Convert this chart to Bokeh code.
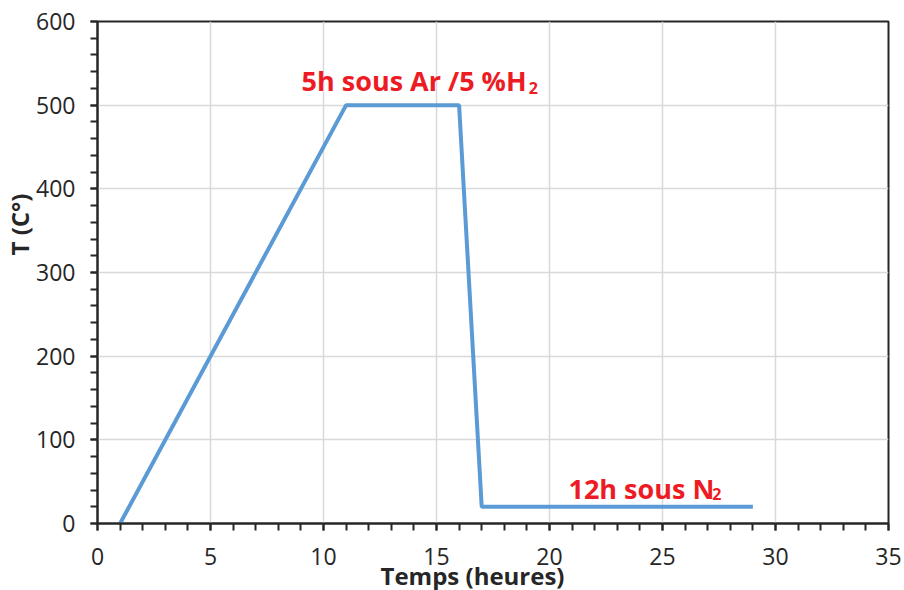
from bokeh.plotting import figure
from bokeh.models import Label, Range1d, FixedTicker, Title
from bokeh.embed import file_html
from bokeh.resources import INLINE

time_h = [1, 11, 16, 17, 29]
temp_c = [0, 500, 500, 20, 20]

x_ticks = [0, 5, 10, 15, 20, 25, 30, 35]
y_ticks = [0, 100, 200, 300, 400, 500, 600]
x_minor = list(range(0, 36))
y_minor = list(range(0, 601, 20))

ann1_main, ann1_sub = "5h sous Ar /5 %H", "2"
ann2_main, ann2_sub = "12h sous N", "2"
x_label = "Temps (heures)"
y_label = "T (C°)"

FONT = "Open Sans"
RED = "#ED1C24"
AXC = "#262626"

p = figure(width=904, height=590, output_backend="svg", toolbar_location=None,
           x_range=Range1d(0, 35), y_range=Range1d(0, 600),
           min_border_left=97, min_border_right=16, min_border_top=21, min_border_bottom=67)
p.frame_width = 791
p.frame_height = 502

p.line(time_h, temp_c, line_color="#5B9BD5", line_width=4)

for ax, ticks, minor in ((p.xaxis, x_ticks, x_minor), (p.yaxis, y_ticks, y_minor)):
    ax.ticker = FixedTicker(ticks=ticks, minor_ticks=minor)
    ax.axis_line_color = AXC
    ax.axis_line_width = 2
    ax.major_tick_line_color = AXC
    ax.major_tick_line_width = 2
    ax.minor_tick_line_color = AXC
    ax.minor_tick_line_width = 2
    ax.major_tick_in = 0
    ax.major_tick_out = 7
    ax.minor_tick_in = 0
    ax.minor_tick_out = 7
    ax.major_label_text_font = FONT
    ax.major_label_text_font_size = "23px"
    ax.major_label_text_color = AXC
p.xaxis.major_label_standoff = 17
p.yaxis.major_label_standoff = 15

p.xgrid.ticker = FixedTicker(ticks=x_ticks)
p.ygrid.ticker = FixedTicker(ticks=y_ticks)
p.grid.grid_line_color = "#D9D9D9"
p.grid.grid_line_width = 1.5

p.outline_line_color = AXC
p.outline_line_width = 2
p.outline_line_alpha = 1

# axis titles
p.add_layout(Title(text=x_label, text_font=FONT, text_font_style="bold",
                   text_font_size="24px", text_color=AXC, align="left",
                   offset=283, standoff=-22), "below")
p.add_layout(Title(text=y_label, text_font=FONT, text_font_style="bold",
                   text_font_size="24px", text_color=AXC, align="left",
                   offset=268, standoff=-5), "left")

# annotations
p.add_layout(Label(x=9.03, y=530, text=ann1_main, text_font=FONT, text_font_style="bold",
                   text_font_size="27px", text_color=RED, text_align="left",
                   text_baseline="alphabetic"))
p.add_layout(Label(x=19.08, y=521, text=ann1_sub, text_font=FONT, text_font_style="bold",
                   text_font_size="16px", text_color=RED, text_align="left",
                   text_baseline="alphabetic"))
p.add_layout(Label(x=20.84, y=42, text=ann2_main, text_font=FONT, text_font_style="bold",
                   text_font_size="27px", text_color=RED, text_align="left",
                   text_baseline="alphabetic"))
p.add_layout(Label(x=27.2, y=35, text=ann2_sub, text_font=FONT, text_font_style="bold",
                   text_font_size="16px", text_color=RED, text_align="left",
                   text_baseline="alphabetic"))

open("out.html", "w").write(file_html(p, INLINE))
